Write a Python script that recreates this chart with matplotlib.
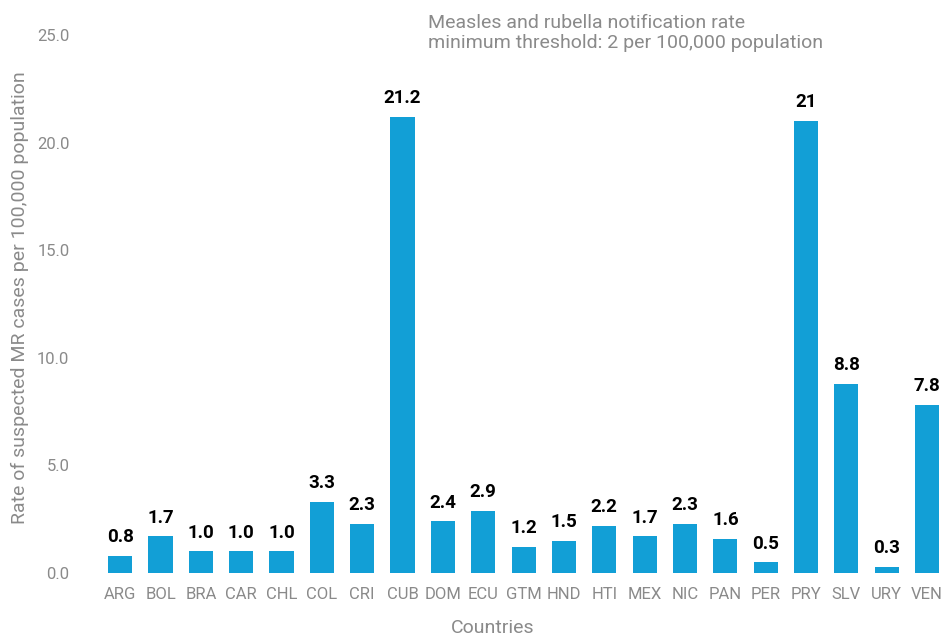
import matplotlib
matplotlib.use("Agg")
import matplotlib.pyplot as plt

plt.rcParams['font.family'] = ['Roboto', 'DejaVu Sans']

countries = ['ARG', 'BOL', 'BRA', 'CAR', 'CHL', 'COL', 'CRI', 'CUB', 'DOM', 'ECU', 'GTM',
             'HND', 'HTI', 'MEX', 'NIC', 'PAN', 'PER', 'PRY', 'SLV', 'URY', 'VEN']
rates = [0.8, 1.7, 1.0, 1.0, 1.0, 3.3, 2.3, 21.2, 2.4, 2.9, 1.2,
         1.5, 2.2, 1.7, 2.3, 1.6, 0.5, 21, 8.8, 0.3, 7.8]
labels = ['0.8', '1.7', '1.0', '1.0', '1.0', '3.3', '2.3', '21.2', '2.4', '2.9', '1.2',
          '1.5', '2.2', '1.7', '2.3', '1.6', '0.5', '21', '8.8', '0.3', '7.8']
yticks = [0, 5, 10, 15, 20, 25]

grey = '#8a8a8a'

fig = plt.figure(figsize=(9.42, 6.37), dpi=100)
ax = fig.add_axes([100 / 942, 64 / 637, 842 / 942, 538 / 637])

x = list(range(len(countries)))
ax.bar(x, rates, width=0.6, color='#129fd6')
for xi, v, lab in zip(x, rates, labels):
    ax.text(xi, v + 0.45, lab, ha='center', va='bottom', fontsize=13.5,
            fontweight='bold', color='black')

ax.set_xlim(-0.5, 20.37)
ax.set_ylim(0, 25)
ax.set_xticks(x)
ax.set_xticklabels(countries)
ax.set_yticks(yticks)
ax.set_yticklabels([f'{t:.1f}' for t in yticks])
ax.tick_params(axis='both', length=0, labelsize=12, labelcolor=grey)
ax.tick_params(axis='x', pad=10)
ax.tick_params(axis='y', pad=22)
for s in ax.spines.values():
    s.set_visible(False)

fig.text(20 / 942, 1 - 298 / 637, 'Rate of suspected MR cases per 100,000 population',
         rotation=90, ha='center', va='center', fontsize=14, color=grey)
fig.text(493 / 942, 1 - 628 / 637, 'Countries', ha='center', va='center',
         fontsize=14, color=grey)
fig.text(428 / 942, 1 - 33 / 637,
         'Measles and rubella notification rate\nminimum threshold: 2 per 100,000 population',
         ha='left', va='center', fontsize=14, color=grey, linespacing=1.15)

fig.savefig('out.png', dpi=100)
